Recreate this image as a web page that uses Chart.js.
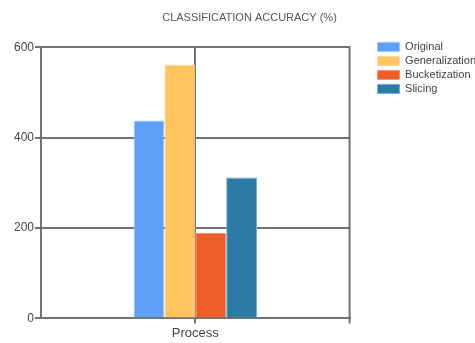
<!DOCTYPE html>
<html>
<head>
<meta charset="utf-8">
<script src="https://cdn.jsdelivr.net/npm/chart.js@4/dist/chart.umd.min.js"></script>
<style>
  html, body { margin: 0; padding: 0; background: #fff; overflow: hidden; }
</style>
</head>
<body>
<canvas id="accuracy-chart" width="486" height="343"></canvas>
<script>
const categories = ['Process'];
const original = [438];
const generalization = [562];
const bucketization = [189];
const slicing = [312];
const yTicks = [0, 200, 400, 600];

const gridColor = '#707070';
const legendGap = 25;

// draws the right edge of the plot frame, and keeps a gap left of the legend
const frameRight = {
    id: 'frameRight',
    beforeLayout(chart) {
        const legend = chart.legend;
        if (legend && !legend._gapPatched) {
            const fit = legend.fit;
            legend.fit = function () {
                fit.call(this);
                this.width += legendGap;
            };
            legend._gapPatched = true;
        }
    },
    afterLayout(chart) {
        if (chart.legend) {
            chart.legend.left += legendGap;
        }
    },
    afterDatasetsDraw(chart) {
        const { ctx, chartArea } = chart;
        ctx.save();
        ctx.strokeStyle = gridColor;
        ctx.lineWidth = 2;
        ctx.beginPath();
        ctx.moveTo(chartArea.right, chartArea.top - 1);
        ctx.lineTo(chartArea.right, chartArea.bottom + 5);
        ctx.stroke();
        ctx.restore();
    }
};

const ctx = document.getElementById('accuracy-chart').getContext('2d');

new Chart(ctx, {
    type: 'bar',
    data: {
        labels: categories,
        datasets: [
            { label: 'Original', data: original, backgroundColor: '#5e9ff8', borderColor: '#9cc4fb', borderWidth: 1 },
            { label: 'Generalization', data: generalization, backgroundColor: '#ffc45f', borderColor: '#ffdb9c', borderWidth: 1 },
            { label: 'Bucketization', data: bucketization, backgroundColor: '#ee5c2a', borderColor: '#f5926f', borderWidth: 1 },
            { label: 'Slicing', data: slicing, backgroundColor: '#2b7ba6', borderColor: '#74aed0', borderWidth: 1 }
        ]
    },
    options: {
        responsive: false,
        animation: false,
        layout: { padding: { left: 13, top: 5, right: 0, bottom: 0 } },
        datasets: {
            bar: { categoryPercentage: 0.4, barPercentage: 1.0 }
        },
        plugins: {
            title: {
                display: true,
                text: 'CLASSIFICATION ACCURACY (%)',
                color: '#555',
                font: { family: 'Arial', size: 11, weight: 'normal' },
                padding: { top: 6, bottom: 23 }
            },
            legend: {
                position: 'right',
                align: 'start',
                fullSize: true,
                title: { display: true, text: ' ', font: { size: 2 }, padding: { top: 31, bottom: 0 } },
                labels: {
                    boxWidth: 22,
                    boxHeight: 9,
                    padding: 3,
                    color: '#444',
                    font: { family: 'Arial', size: 11 }
                }
            },
            tooltip: { enabled: false }
        },
        scales: {
            x: {
                grid: { offset: false, color: gridColor, lineWidth: 2, tickLength: 5 },
                border: { color: gridColor, width: 2 },
                ticks: { color: '#444', font: { family: 'Arial', size: 13 }, padding: 2 }
            },
            y: {
                min: 0,
                max: 600,
                afterBuildTicks: axis => { axis.ticks = yTicks.map(v => ({ value: v })); },
                grid: { color: gridColor, lineWidth: 2, tickLength: 6 },
                border: { color: gridColor, width: 2 },
                ticks: { color: '#444', font: { family: 'Arial', size: 12 }, padding: 1 }
            }
        }
    },
    plugins: [frameRight]
});
</script>
</body>
</html>
